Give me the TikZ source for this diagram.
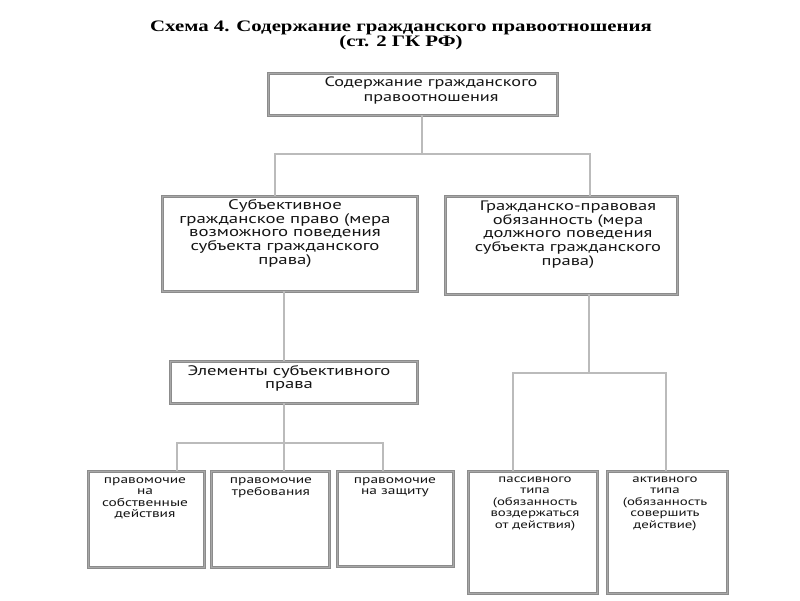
\documentclass[tikz,border=0pt]{standalone}
\usepackage{fontspec}
\newfontfamily\bxf{PT Sans}
\newfontfamily\ttlf{Liberation Serif}
\definecolor{boxgray}{HTML}{8C8C8C}
\definecolor{boxinner}{HTML}{A8A8A8}
\definecolor{conngray}{HTML}{BBBBBB}
\definecolor{txtgray}{HTML}{141414}
\newcommand{\stretchtext}[2]{\scalebox{#1}[1]{\begin{tabular}{@{}c@{}}#2\end{tabular}}}
\begin{document}
\begin{tikzpicture}[x=1pt,y=-1pt,
  box/.style={draw=boxgray,line width=1.1pt,double=boxinner,double distance=0.8pt,fill=white,inner sep=0pt,outer sep=0pt,anchor=north west},
  conn/.style={draw=conngray,line width=1.5pt},
  txt/.style={inner sep=0pt,text=txtgray,font=\bxf},
  ttl/.style={inner sep=0pt,text=black,font=\ttlf\bfseries\fontsize{16}{15.5}\selectfont}]
\useasboundingbox[fill=white] (0,0) rectangle (800,600);
% title
\node[ttl] (title) at (401,36) {\stretchtext{1.3}{Схема 4. Содержание гражданского правоотношения\\(ст. 2 ГК РФ)}};
% boxes
\node[box,minimum width=289pt,minimum height=42pt] (top) at (268,73) {};
\node[box,minimum width=255pt,minimum height=95pt] (L) at (162,196) {};
\node[box,minimum width=232pt,minimum height=98pt] (R) at (445,196) {};
\node[box,minimum width=247pt,minimum height=42pt] (E) at (170,361) {};
\node[box,minimum width=116pt,minimum height=96pt] (B1) at (88,471) {};
\node[box,minimum width=118pt,minimum height=96pt] (B2) at (211,471) {};
\node[box,minimum width=116pt,minimum height=95pt] (B3) at (337,471) {};
\node[box,minimum width=129pt,minimum height=122pt] (B4) at (468,471) {};
\node[box,minimum width=120pt,minimum height=122pt] (B5) at (607,471) {};
% texts
\node[txt,font=\bxf\fontsize{13.5}{15.5}\selectfont] (topt) at (431,91) {\stretchtext{1.35}{Содержание гражданского\\правоотношения}};
\node[txt,font=\bxf\fontsize{13.9}{13}\selectfont] (Lt) at (285,234) {\stretchtext{1.35}{Субъективное\\гражданское право (мера\\возможного поведения\\субъекта гражданского\\права)}};
\node[txt,font=\bxf\fontsize{13.7}{13}\selectfont] (Rt) at (568,235) {\stretchtext{1.35}{Гражданско-правовая\\обязанность (мера\\должного поведения\\субъекта гражданского\\права)}};
\node[txt,font=\bxf\fontsize{13.8}{12.5}\selectfont] (Et) at (289,379) {\stretchtext{1.35}{Элементы субъективного\\права}};
\node[txt,font=\bxf\fontsize{11.4}{11.3}\selectfont] (B1t) at (145,498) {\stretchtext{1.35}{правомочие\\на\\собственные\\действия}};
\node[txt,font=\bxf\fontsize{11.4}{11.3}\selectfont] (B2t) at (271,487) {\stretchtext{1.35}{правомочие\\требования}};
\node[txt,font=\bxf\fontsize{11.4}{11.3}\selectfont] (B3t) at (395,487) {\stretchtext{1.35}{правомочие\\на защиту}};
\node[txt,font=\bxf\fontsize{11}{11.5}\selectfont] (B4t) at (535,503) {\stretchtext{1.35}{пассивного\\типа\\(обязанность\\воздержаться\\от действия)}};
\node[txt,font=\bxf\fontsize{11}{11.5}\selectfont] (B5t) at (665,503) {\stretchtext{1.35}{активного\\типа\\(обязанность\\совершить\\действие)}};
% connector points
\coordinate (j1) at (422,154);
\coordinate (hL) at (275,154);
\coordinate (hR) at (590,154);
\coordinate (v2) at (284,330);
\coordinate (j3) at (284,443);
\coordinate (h1) at (177,443);
\coordinate (h3) at (383,443);
\coordinate (j4) at (589,373);
\coordinate (h4) at (513,373);
\coordinate (h5) at (666,373);
% connectors
\draw[conn] (top.south -| j1) -- (j1);
\draw[conn] (hL |- L.north) -- (hL) -- (hR) -- (hR |- R.north);
\draw[conn] (L.south -| v2) -- (E.north -| v2);
\draw[conn] (E.south -| j3) -- (j3) -- (j3 |- B2.north);
\draw[conn] (h1 |- B1.north) -- (h1) -- (h3) -- (h3 |- B3.north);
\draw[conn] (R.south -| j4) -- (j4);
\draw[conn] (h4 |- B4.north) -- (h4) -- (h5) -- (h5 |- B5.north);
\end{tikzpicture}
\end{document}
